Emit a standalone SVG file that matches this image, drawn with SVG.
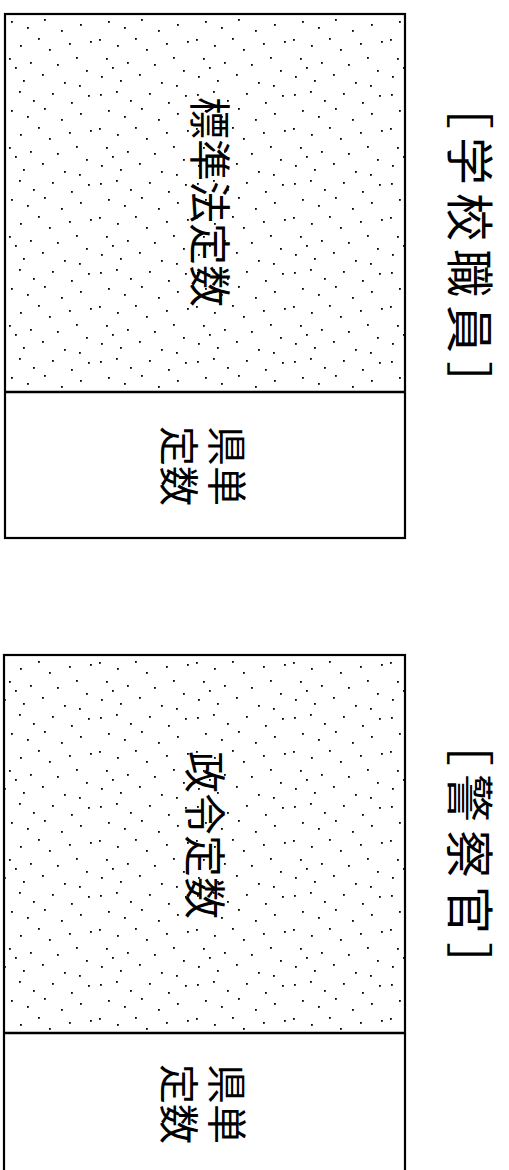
<svg xmlns="http://www.w3.org/2000/svg" width="509" height="1170" viewBox="0 0 509 1170">
<style>
.box{fill:none;stroke:#000;stroke-width:2.2}
.div{stroke:#000;stroke-width:2.6}
.t{font-family:"Noto Sans CJK JP","Noto Sans CJK SC",sans-serif;fill:#000;text-anchor:middle;dominant-baseline:central}
.big{font-size:42px}
.mid{font-size:40px}
.lab{font-size:48px;letter-spacing:8px}
</style>
<defs>
<pattern id="dots" width="97" height="89" patternUnits="userSpaceOnUse">
<g fill="#000">
<rect x="3" y="5" width="1.8" height="1.8"/><rect x="19" y="2" width="1.8" height="1.8"/><rect x="33" y="11" width="1.8" height="1.8"/><rect x="52" y="4" width="1.8" height="1.8"/><rect x="71" y="13" width="1.8" height="1.8"/><rect x="88" y="6" width="1.8" height="1.8"/>
<rect x="11" y="21" width="1.8" height="1.8"/><rect x="27" y="27" width="1.8" height="1.8"/><rect x="44" y="19" width="1.8" height="1.8"/><rect x="61" y="30" width="1.8" height="1.8"/><rect x="80" y="24" width="1.8" height="1.8"/>
<rect x="2" y="39" width="1.8" height="1.8"/><rect x="20" y="45" width="1.8" height="1.8"/><rect x="38" y="38" width="1.8" height="1.8"/><rect x="49" y="49" width="1.8" height="1.8"/><rect x="69" y="43" width="1.8" height="1.8"/><rect x="90" y="41" width="1.8" height="1.8"/>
<rect x="9" y="58" width="1.8" height="1.8"/><rect x="30" y="62" width="1.8" height="1.8"/><rect x="57" y="64" width="1.8" height="1.8"/><rect x="76" y="57" width="1.8" height="1.8"/><rect x="86" y="70" width="1.8" height="1.8"/>
<rect x="4" y="76" width="1.8" height="1.8"/><rect x="23" y="80" width="1.8" height="1.8"/><rect x="42" y="74" width="1.8" height="1.8"/><rect x="64" y="82" width="1.8" height="1.8"/><rect x="79" y="85" width="1.8" height="1.8"/><rect x="15" y="67" width="1.8" height="1.8"/>
</g>
</pattern>
</defs>
<g id="node-school">
<rect x="5" y="14" width="400" height="378" fill="url(#dots)"/>
<rect class="box" x="5" y="14" width="400" height="524"/>
<line class="div" x1="5" y1="392" x2="405" y2="392"/>
<text class="t big" transform="translate(212,202) rotate(90)">標準法定数</text>
<g transform="translate(205,466) rotate(90)">
<text class="t mid" x="0" y="-24">県単</text>
<text class="t mid" x="0" y="24">定数</text>
</g>
<text class="t lab" transform="translate(473,249) rotate(90)">［学校職員］</text>
</g>
<g id="node-police">
<rect x="4" y="655" width="401" height="378" fill="url(#dots)"/>
<rect class="box" x="4" y="655" width="401" height="520"/>
<line class="div" x1="4" y1="1033" x2="405" y2="1033"/>
<text class="t big" transform="translate(207,835) rotate(90)">政令定数</text>
<g transform="translate(205,1104) rotate(90)">
<text class="t mid" x="0" y="-24">県単</text>
<text class="t mid" x="0" y="24">定数</text>
</g>
<text class="t lab" transform="translate(473,858) rotate(90)">［警察官］</text>
</g>
<g id="connectors"/>
</svg>
